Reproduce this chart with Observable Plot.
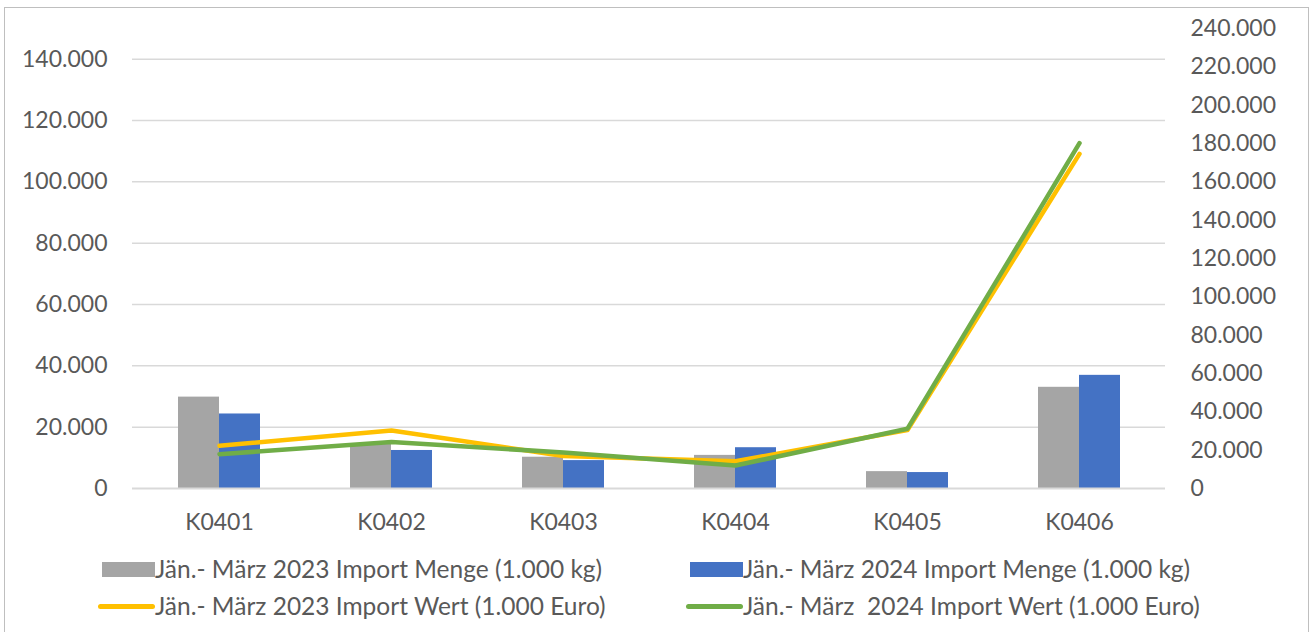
<!DOCTYPE html>
<html>
<head>
<meta charset="utf-8">
<script src="https://cdn.jsdelivr.net/npm/d3@7"></script>
<script src="https://cdn.jsdelivr.net/npm/@observablehq/plot@0.6"></script>
<style>
  html, body { margin: 0; padding: 0; background: #fff; }
  body { width: 1312px; height: 632px; position: relative; overflow: hidden; font-family: Lato, "Open Sans", sans-serif; }
  #frame { position: absolute; left: 4px; top: 7px; width: 1305px; height: 640px; border: 1px solid #bfbfbf; box-sizing: border-box; }
  #chart { position: absolute; left: 0; top: 0; }
  .leg { position: absolute; display: flex; align-items: center; font-size: 24.5px; color: #595959; white-space: pre; line-height: 1; }
  .sw { display: inline-block; }
</style>
</head>
<body>
<div id="frame"></div>
<div id="chart"></div>
<div id="legend"></div>
<script>
const categories = ["K0401", "K0402", "K0403", "K0404", "K0405", "K0406"];
const menge2023 = [29800, 14500, 10200, 10800, 5500, 33000];
const menge2024 = [24300, 12400, 9100, 13300, 5200, 36900];
const wert2023 = [22300, 30300, 17000, 14200, 30500, 174600];
const wert2024 = [17900, 24200, 18800, 12000, 31200, 180200];
const leftTicks = [0, 20000, 40000, 60000, 80000, 100000, 120000, 140000];
const rightTicks = [0, 20000, 40000, 60000, 80000, 100000, 120000, 140000, 160000, 180000, 200000, 220000, 240000];
const seriesNames = [
  "Jän.- März 2023 Import Menge (1.000 kg)",
  "Jän.- März 2024 Import Menge (1.000 kg)",
  "Jän.- März 2023 Import Wert (1.000 Euro)",
  "Jän.- März  2024 Import Wert (1.000 Euro)"
];
const colors = ["#a5a5a5", "#4472c4", "#ffc000", "#70ad47"];

const leftMax = 150000, rightMax = 240000;
const toLeft = v => v * leftMax / rightMax;
const fmt = d3.formatLocale({decimal: ",", thousands: ".", grouping: [3], currency: ["", "€"]}).format(",d");

const rows = categories.map((c, i) => ({cat: c, m23: menge2023[i], m24: menge2024[i], w23: wert2023[i], w24: wert2024[i]}));

const textColor = "#595959";
const fs = 23;

const plot = Plot.plot({
  width: 1312,
  height: 540,
  marginLeft: 132,
  marginRight: 147,
  marginTop: 28,
  marginBottom: 52,
  style: {fontFamily: "Lato, 'Open Sans', sans-serif", background: "transparent"},
  x: {type: "band", domain: categories, padding: 0, axis: null},
  y: {domain: [0, leftMax], axis: null},
  marks: [
    Plot.gridY(leftTicks.filter(d => d > 0), {stroke: "#d9d9d9", strokeOpacity: 1, strokeWidth: 1.5}),
    Plot.barY(rows, {x: "cat", y: "m23", fill: colors[0], insetLeft: 45, insetRight: 86}),
    Plot.barY(rows, {x: "cat", y: "m24", fill: colors[1], insetLeft: 86, insetRight: 45}),
    Plot.ruleY([0], {stroke: "#d9d9d9", strokeWidth: 2}),
    Plot.line(rows, {x: "cat", y: d => toLeft(d.w23), stroke: colors[2], strokeWidth: 4.5, strokeLinecap: "round", strokeLinejoin: "round"}),
    Plot.line(rows, {x: "cat", y: d => toLeft(d.w24), stroke: colors[3], strokeWidth: 4.5, strokeLinecap: "round", strokeLinejoin: "round"}),
    Plot.text(leftTicks, {y: d => d, text: d => fmt(d), frameAnchor: "left", textAnchor: "end", dx: -25, fill: textColor, fontSize: fs}),
    Plot.text(rightTicks, {y: d => toLeft(d), text: d => fmt(d), frameAnchor: "right", textAnchor: "start", dx: 25, fill: textColor, fontSize: fs}),
    Plot.text(categories, {x: d => d, text: d => d, frameAnchor: "bottom", lineAnchor: "middle", dy: 34, fill: textColor, fontSize: fs})
  ]
});
document.getElementById("chart").appendChild(plot);

const legendItems = [
  {name: seriesNames[0], color: colors[0], type: "bar", x: 102, y: 569, sw: 53},
  {name: seriesNames[1], color: colors[1], type: "bar", x: 690, y: 569, sw: 53},
  {name: seriesNames[2], color: colors[2], type: "line", x: 98, y: 606, sw: 57},
  {name: seriesNames[3], color: colors[3], type: "line", x: 686, y: 606, sw: 57}
];
const legend = document.getElementById("legend");
for (const it of legendItems) {
  const div = document.createElement("div");
  div.className = "leg";
  div.style.left = it.x + "px";
  div.style.top = (it.y - 14) + "px";
  div.style.height = "28px";
  const sw = document.createElement("span");
  sw.className = "sw";
  sw.style.width = it.sw + "px";
  sw.style.background = it.color;
  if (it.type === "bar") { sw.style.height = "15px"; }
  else { sw.style.height = "5px"; sw.style.borderRadius = "3px"; }
  const tx = document.createElement("span");
  tx.textContent = it.name;
  div.appendChild(sw);
  div.appendChild(tx);
  legend.appendChild(div);
}
</script>
</body>
</html>
